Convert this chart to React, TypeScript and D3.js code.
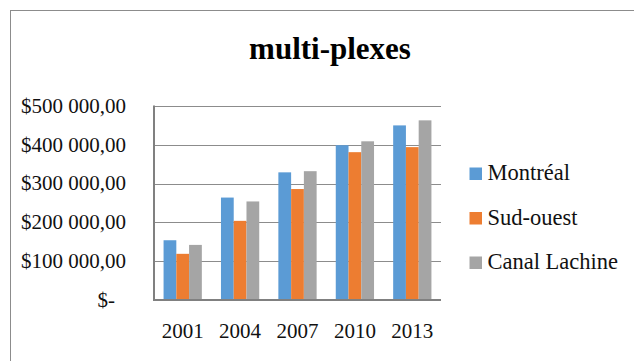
import React from "react";
import * as d3 from "d3";

const years = ["2001", "2004", "2007", "2010", "2013"];
const seriesNames = ["Montréal", "Sud-ouest", "Canal Lachine"];
const montreal = [154000, 264000, 329000, 399000, 450000];
const sudOuest = [119000, 204000, 286000, 381000, 394000];
const canalLachine = [142000, 254000, 332000, 409000, 463000];
const seriesValues = [montreal, sudOuest, canalLachine];
const colors = ["#5B9BD5", "#ED7D31", "#A5A5A5"];
const yTicks = [0, 100000, 200000, 300000, 400000, 500000];
const title = "multi-plexes";

const W = 634;
const H = 361;
const FONT = "'Liberation Serif', serif";

const fmt = (v: number) => {
  if (v === 0) return "$-";
  const s = d3.format(",.2f")(v);
  return "$" + s.replace(/,/g, " ").replace(".", ",");
};

export default function App() {
  const plotL = 154;
  const plotR = 441;
  const plotT = 106;
  const plotB = 300;

  const x0 = d3
    .scaleBand<string>()
    .domain(years)
    .range([plotL, plotR])
    .paddingInner(1 / 3)
    .paddingOuter(1 / 6);
  const x1 = d3
    .scaleBand<string>()
    .domain(seriesNames)
    .range([0, x0.bandwidth()]);
  const y = d3.scaleLinear().domain([0, 500000]).range([plotB, plotT]);

  return (
    <div style={{ position: "fixed", left: 0, top: 0, width: W, height: H, background: "#fff" }}>
      <svg width={W} height={H} style={{ display: "block" }} fontFamily={FONT}>
        <rect x={0} y={0} width={W} height={H} fill="#fff" />
        <rect x={10.5} y={10.5} width={W + 40} height={H + 40} fill="none" stroke="#8c8c8c" strokeWidth={1} />

        <text x={330} y={59} textAnchor="middle" fontSize={31} fontWeight="bold" fill="#000">
          {title}
        </text>

        {yTicks.filter((t) => t > 0).map((t) => (
          <line key={t} x1={plotL} x2={plotR} y1={Math.round(y(t)) + 0.5} y2={Math.round(y(t)) + 0.5} stroke="#8c8c8c" strokeWidth={1} />
        ))}

        {yTicks.map((t) => (
          <text
            key={"l" + t}
            x={t === 0 ? 115 : 126}
            y={y(t)}
            dy="0.32em"
            textAnchor="end"
            fontSize={21}
            fill="#111"
          >
            {fmt(t)}
          </text>
        ))}

        {years.map((yr, i) => (
          <g key={yr} transform={`translate(${x0(yr)},0)`}>
            {seriesNames.map((s, j) => (
              <rect
                key={s}
                x={x1(s)}
                y={y(seriesValues[j][i])}
                width={x1.bandwidth()}
                height={plotB - y(seriesValues[j][i])}
                fill={colors[j]}
              />
            ))}
          </g>
        ))}

        <line x1={plotL} x2={plotL} y1={plotT - 0.5} y2={plotB + 1} stroke="#808080" strokeWidth={2} />
        <line x1={plotL - 1} x2={plotR} y1={plotB} y2={plotB} stroke="#808080" strokeWidth={2} />

        {years.map((yr) => (
          <text
            key={"c" + yr}
            x={(x0(yr) as number) + x0.bandwidth() / 2}
            y={338}
            textAnchor="middle"
            fontSize={21}
            fill="#111"
          >
            {yr}
          </text>
        ))}

        {seriesNames.map((s, j) => {
          const by = 180 + j * 44.5;
          return (
            <g key={"lg" + s}>
              <rect x={469.5} y={by - 12.5} width={12.5} height={12.5} fill={colors[j]} />
              <text x={487.5} y={by} fontSize={22.5} fill="#111">
                {s}
              </text>
            </g>
          );
        })}
      </svg>
    </div>
  );
}
